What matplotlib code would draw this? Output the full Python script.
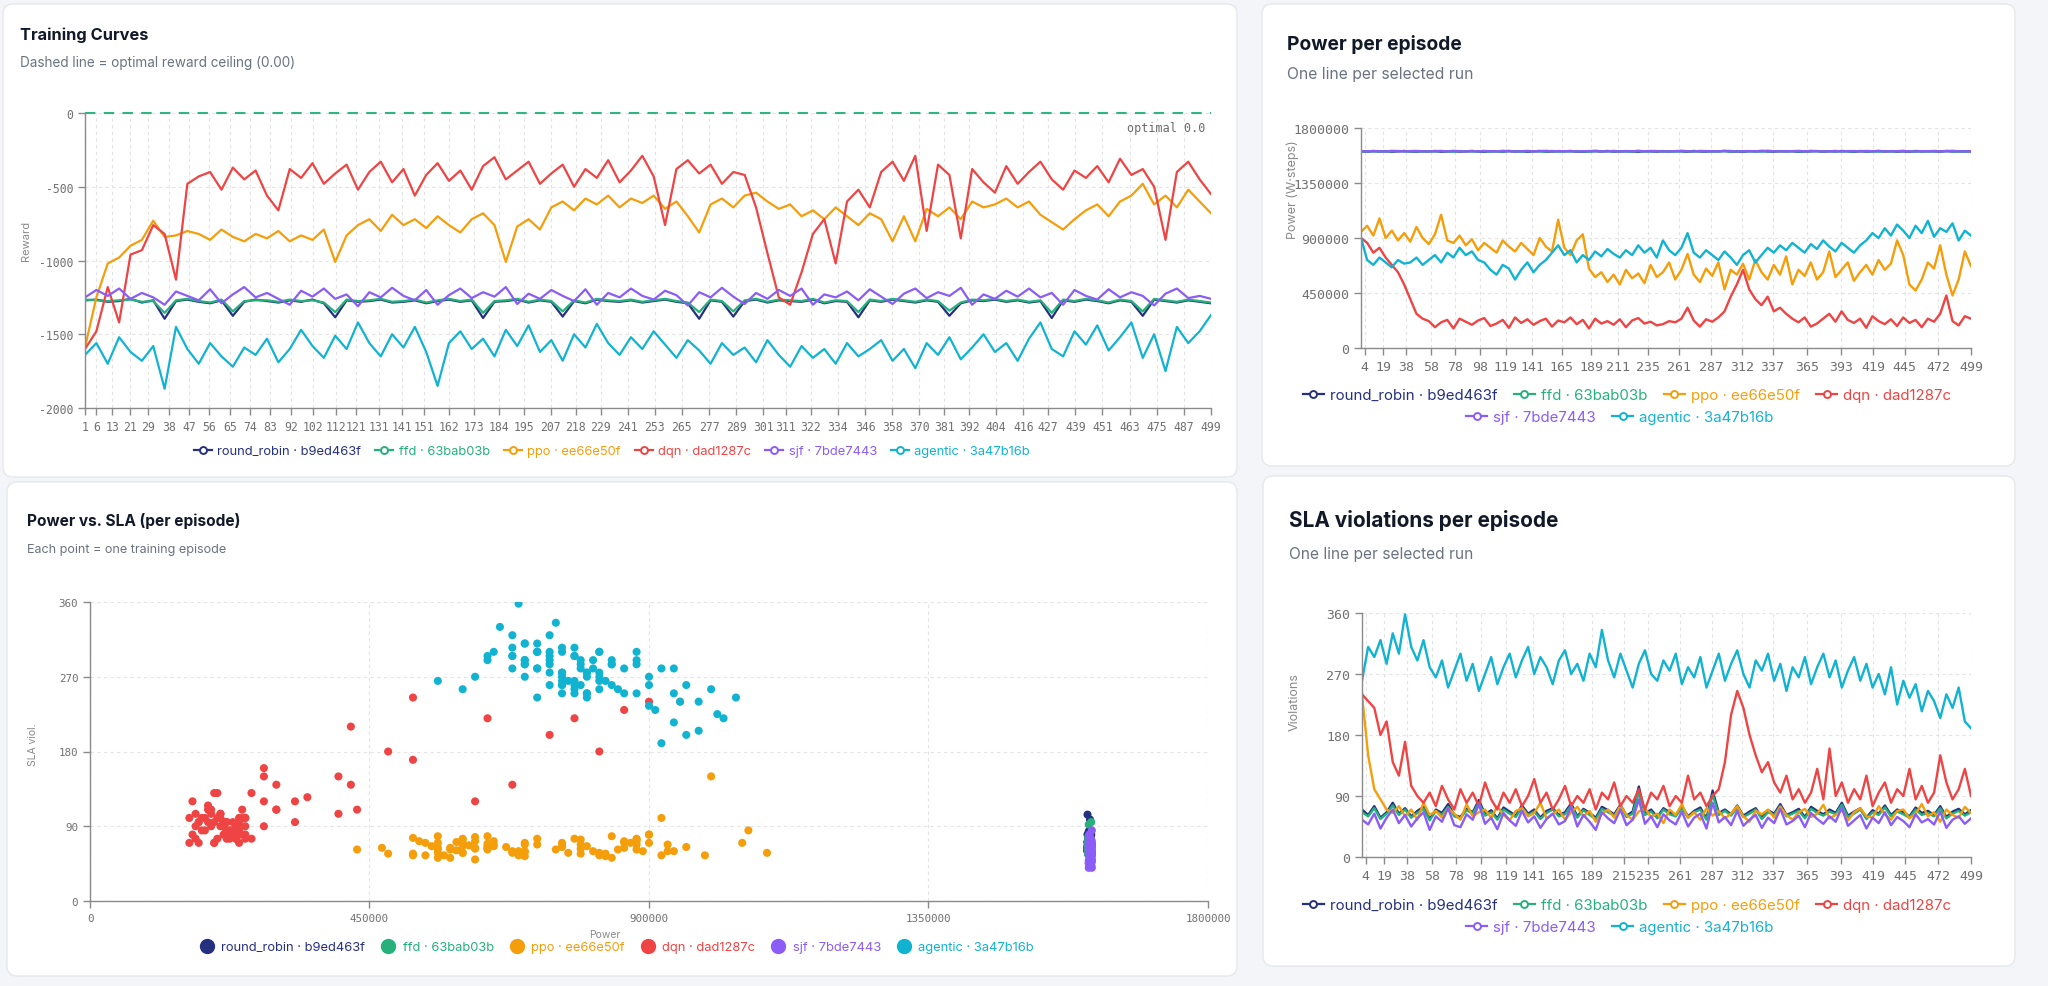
import numpy as np
import matplotlib
matplotlib.use("Agg")
import matplotlib.pyplot as plt
from matplotlib.patches import FancyBboxPatch
from matplotlib.lines import Line2D
from matplotlib.transforms import IdentityTransform

W, H = 2048, 987

runs = ["round_robin", "ffd", "ppo", "dqn", "sjf", "agentic"]
run_ids = ["b9ed463f", "63bab03b", "ee66e50f", "dad1287c", "7bde7443", "3a47b16b"]
colors = ["#25307f", "#25b07c", "#f59e0b", "#ef4444", "#8b5cf6", "#12b3d1"]

# episodes sampled (every ~5th episode of 1..499)
n_points = 100

# ---- reward per episode ----
reward_rr = [
    -1270, -1265, -1280, -1275, -1260, -1285, -1270, -1395, -1275, -1265,
    -1280, -1290, -1270, -1375, -1280, -1265, -1275, -1285, -1270, -1280,
    -1265, -1290, -1385, -1270, -1280, -1275, -1265, -1285, -1280, -1270,
    -1290, -1275, -1265, -1280, -1270, -1390, -1280, -1275, -1265, -1285,
    -1270, -1280, -1380, -1275, -1290, -1265, -1275, -1280, -1270, -1285,
    -1275, -1265, -1280, -1290, -1395, -1270, -1280, -1380, -1275, -1265,
    -1285, -1270, -1275, -1280, -1265, -1290, -1275, -1280, -1385, -1270,
    -1280, -1265, -1275, -1285, -1270, -1280, -1375, -1290, -1270, -1275,
    -1265, -1280, -1270, -1285, -1275, -1390, -1270, -1280, -1265, -1275,
    -1290, -1270, -1280, -1375, -1265, -1275, -1285, -1270, -1280, -1290]
reward_ffd = [
    -1265, -1270, -1275, -1270, -1265, -1280, -1275, -1355, -1270, -1260,
    -1275, -1285, -1265, -1345, -1275, -1270, -1270, -1280, -1265, -1275,
    -1270, -1285, -1350, -1265, -1275, -1270, -1260, -1280, -1275, -1265,
    -1285, -1270, -1260, -1275, -1265, -1355, -1275, -1270, -1260, -1280,
    -1265, -1275, -1345, -1270, -1285, -1260, -1270, -1275, -1265, -1280,
    -1270, -1260, -1275, -1285, -1350, -1265, -1275, -1345, -1270, -1260,
    -1280, -1265, -1270, -1275, -1260, -1285, -1270, -1275, -1350, -1265,
    -1275, -1260, -1270, -1280, -1265, -1275, -1340, -1285, -1265, -1270,
    -1260, -1275, -1265, -1280, -1270, -1355, -1265, -1275, -1260, -1270,
    -1285, -1265, -1275, -1345, -1260, -1270, -1280, -1265, -1275, -1285]
reward_ppo = [
    -1590, -1250, -1020, -980, -900, -860, -730, -840, -830, -800,
    -820, -860, -790, -840, -870, -820, -850, -800, -870, -830,
    -860, -790, -1010, -830, -760, -720, -800, -690, -760, -720,
    -780, -700, -760, -810, -720, -680, -760, -1010, -770, -720,
    -790, -640, -600, -660, -580, -620, -560, -640, -580, -610,
    -560, -650, -600, -700, -810, -620, -580, -640, -560, -540,
    -600, -650, -620, -700, -660, -720, -640, -700, -760, -680,
    -720, -870, -700, -870, -650, -700, -640, -720, -600, -640,
    -620, -580, -640, -600, -690, -740, -790, -720, -660, -620,
    -700, -600, -560, -480, -620, -560, -640, -520, -600, -680]
reward_dqn = [
    -1600, -1480, -1180, -1420, -960, -930, -760, -820, -1130, -480,
    -430, -400, -520, -370, -450, -390, -560, -660, -380, -440,
    -340, -480, -410, -350, -520, -400, -330, -470, -380, -560,
    -420, -340, -460, -390, -520, -360, -300, -450, -390, -330,
    -480, -410, -350, -500, -380, -440, -320, -470, -390, -290,
    -430, -760, -380, -320, -410, -350, -480, -400, -420, -640,
    -950, -1250, -1300, -1080, -820, -720, -1020, -600, -520, -640,
    -400, -330, -460, -290, -800, -350, -420, -850, -380, -470,
    -540, -360, -480, -400, -330, -450, -520, -390, -440, -360,
    -470, -310, -420, -380, -500, -860, -400, -330, -450, -550]
reward_sjf = [
    -1250, -1200, -1240, -1190, -1260, -1220, -1250, -1300, -1210, -1240,
    -1270, -1195, -1290, -1230, -1180, -1250, -1220, -1260, -1300, -1205,
    -1245, -1190, -1260, -1230, -1310, -1215, -1250, -1185, -1240, -1270,
    -1200, -1300, -1235, -1190, -1255, -1215, -1245, -1180, -1295, -1225,
    -1260, -1200, -1240, -1275, -1195, -1300, -1220, -1250, -1190, -1240,
    -1265, -1205, -1235, -1305, -1215, -1250, -1185, -1245, -1295, -1220,
    -1260, -1200, -1240, -1190, -1300, -1230, -1250, -1210, -1270, -1195,
    -1245, -1295, -1225, -1190, -1255, -1215, -1240, -1185, -1300, -1230,
    -1260, -1205, -1245, -1190, -1250, -1220, -1300, -1200, -1240, -1265,
    -1195, -1250, -1215, -1240, -1305, -1225, -1190, -1255, -1240, -1260]
reward_agentic = [
    -1640, -1560, -1700, -1520, -1620, -1680, -1580, -1870, -1450, -1600,
    -1700, -1560, -1650, -1720, -1590, -1640, -1530, -1690, -1600, -1470,
    -1580, -1660, -1510, -1600, -1420, -1560, -1650, -1500, -1590, -1450,
    -1620, -1850, -1560, -1480, -1600, -1530, -1650, -1470, -1580, -1440,
    -1620, -1540, -1680, -1500, -1590, -1430, -1560, -1640, -1520, -1600,
    -1480, -1570, -1660, -1540, -1610, -1700, -1560, -1640, -1590, -1690,
    -1540, -1640, -1720, -1580, -1660, -1600, -1700, -1560, -1650, -1600,
    -1540, -1680, -1600, -1730, -1560, -1640, -1520, -1670, -1590, -1500,
    -1620, -1560, -1680, -1530, -1420, -1600, -1650, -1480, -1570, -1440,
    -1610, -1520, -1420, -1660, -1500, -1750, -1450, -1560, -1480, -1370]

# ---- power per episode, in thousands of W-steps ----
power_rr_k = [
    1609, 1607, 1610, 1608, 1611, 1606, 1609, 1612, 1608, 1607,
    1610, 1609, 1611, 1606, 1608, 1610, 1607, 1609, 1612, 1608,
    1606, 1610, 1609, 1607, 1611, 1608, 1610, 1606, 1609, 1612,
    1607, 1608, 1610, 1609, 1611, 1607, 1606, 1609, 1610, 1608,
    1612, 1607, 1609, 1611, 1608, 1606, 1610, 1609, 1607, 1611,
    1608, 1610, 1609, 1606, 1612, 1608, 1607, 1610, 1609, 1611,
    1607, 1608, 1606, 1610, 1609, 1612, 1608, 1607, 1611, 1609,
    1610, 1606, 1608, 1609, 1611, 1607, 1610, 1608, 1612, 1609,
    1606, 1610, 1607, 1609, 1611, 1608, 1610, 1607, 1609, 1606,
    1612, 1608, 1610, 1609, 1607, 1611, 1608, 1610, 1609, 1608]
power_ffd_k = [
    1610, 1608, 1611, 1609, 1607, 1610, 1612, 1608, 1609, 1611,
    1607, 1610, 1608, 1612, 1609, 1607, 1611, 1610, 1608, 1609,
    1611, 1607, 1610, 1608, 1612, 1609, 1607, 1611, 1610, 1608,
    1609, 1612, 1607, 1610, 1608, 1611, 1609, 1607, 1612, 1610,
    1608, 1611, 1610, 1607, 1609, 1612, 1608, 1610, 1611, 1607,
    1610, 1608, 1612, 1609, 1607, 1611, 1610, 1608, 1609, 1612,
    1607, 1611, 1609, 1610, 1608, 1607, 1612, 1609, 1610, 1608,
    1611, 1609, 1607, 1612, 1610, 1608, 1609, 1611, 1607, 1610,
    1608, 1612, 1610, 1609, 1607, 1611, 1608, 1610, 1612, 1609,
    1607, 1610, 1608, 1611, 1609, 1612, 1610, 1607, 1609, 1610]
power_ppo_k = [
    950, 1000, 920, 1060, 900, 960, 880, 940, 870, 990,
    900, 850, 930, 1090, 880, 860, 920, 840, 890, 800,
    860, 820, 780, 880, 830, 790, 860, 810, 760, 900,
    830, 790, 1050, 820, 760, 880, 930, 650, 580, 620,
    540, 600, 520, 640, 570, 610, 530, 680, 580, 620,
    700, 560, 640, 770, 600, 540, 650, 590, 700, 480,
    640, 600, 690, 560, 720, 620, 560, 680, 600, 750,
    520, 640, 590, 700, 560, 620, 790, 580, 640, 700,
    550, 620, 680, 600, 720, 640, 690, 880, 760, 520,
    470, 560, 700, 650, 840, 600, 430, 560, 790, 670]
power_dqn_k = [
    900, 860, 780, 820, 740, 680, 620, 520, 400, 280,
    240, 220, 170, 210, 230, 160, 240, 215, 190, 225,
    245, 180, 200, 230, 165, 250, 205, 235, 190, 220,
    240, 175, 225, 210, 250, 195, 230, 160, 240, 200,
    220, 190, 235, 170, 225, 245, 200, 215, 185, 195,
    220, 210, 240, 330, 225, 175, 235, 215, 250, 300,
    420, 520, 640, 480, 400, 350, 420, 300, 330, 280,
    240, 210, 250, 175, 200, 240, 280, 215, 300, 230,
    205, 240, 165, 260, 220, 195, 235, 180, 250, 205,
    230, 170, 240, 215, 280, 430, 220, 185, 260, 240]
power_sjf_k = [
    1611, 1609, 1612, 1610, 1608, 1613, 1610, 1609, 1611, 1612,
    1610, 1608, 1612, 1611, 1609, 1613, 1610, 1608, 1611, 1609,
    1612, 1610, 1609, 1613, 1611, 1608, 1610, 1612, 1609, 1611,
    1613, 1609, 1611, 1610, 1612, 1608, 1610, 1611, 1613, 1609,
    1610, 1612, 1608, 1611, 1609, 1613, 1610, 1612, 1611, 1608,
    1609, 1611, 1613, 1610, 1608, 1612, 1611, 1609, 1610, 1613,
    1612, 1608, 1610, 1611, 1609, 1612, 1613, 1610, 1608, 1611,
    1610, 1613, 1609, 1612, 1611, 1608, 1610, 1612, 1609, 1611,
    1611, 1609, 1612, 1610, 1613, 1608, 1611, 1610, 1612, 1609,
    1608, 1611, 1610, 1612, 1609, 1611, 1613, 1610, 1609, 1611]
power_agentic_k = [
    900, 720, 680, 740, 700, 660, 720, 690, 700, 740,
    680, 720, 760, 700, 780, 740, 820, 760, 790, 720,
    700, 640, 600, 680, 650, 560, 640, 700, 620, 680,
    720, 780, 840, 760, 800, 700, 760, 720, 790, 750,
    810, 770, 740, 800, 760, 840, 780, 820, 740, 880,
    800, 760, 820, 940, 780, 740, 800, 760, 720, 790,
    740, 680, 760, 800, 700, 760, 820, 780, 840, 800,
    860, 820, 780, 850, 810, 880, 830, 790, 860, 820,
    780, 840, 880, 940, 900, 980, 920, 1010, 960, 900,
    1000, 940, 1040, 910, 980, 950, 1020, 880, 960, 920]

# ---- SLA violations per episode ----
sla_rr = [
    70, 62, 75, 58, 66, 80, 64, 72, 60, 68,
    74, 56, 70, 65, 78, 62, 59, 71, 66, 84,
    63, 69, 57, 73, 67, 61, 76, 64, 70, 58,
    68, 72, 62, 66, 79, 60, 71, 65, 58, 74,
    69, 63, 77, 61, 67, 104, 64, 70, 59, 72,
    66, 62, 75, 60, 68, 73, 57, 98, 65, 70,
    63, 76, 61, 67, 72, 58, 69, 64, 78, 62,
    66, 71, 59, 74, 68, 63, 70, 65, 80, 61,
    67, 72, 58, 69, 64, 76, 62, 70, 66, 60,
    73, 65, 68, 62, 75, 59, 67, 71, 63, 69]
sla_ffd = [
    66, 60, 72, 56, 64, 76, 62, 70, 58, 65,
    71, 54, 68, 62, 74, 60, 57, 69, 64, 80,
    61, 66, 55, 70, 64, 59, 73, 62, 67, 56,
    65, 70, 60, 63, 76, 58, 69, 62, 56, 71,
    66, 61, 74, 59, 64, 95, 62, 67, 57, 70,
    63, 60, 72, 58, 66, 70, 55, 92, 62, 68,
    61, 73, 59, 64, 70, 56, 66, 62, 75, 60,
    64, 68, 57, 71, 65, 61, 67, 63, 77, 59,
    64, 70, 56, 66, 62, 73, 60, 67, 63, 58,
    70, 62, 65, 60, 72, 57, 64, 68, 61, 66]
sla_ppo = [
    240, 150, 100, 85, 70, 65, 75, 60, 70, 55,
    80, 62, 68, 58, 72, 64, 55, 78, 60, 66,
    70, 58, 75, 62, 54, 68, 72, 60, 65, 80,
    57, 63, 70, 55, 66, 74, 60, 68, 52, 64,
    70, 58, 76, 62, 55, 67, 72, 59, 64, 50,
    70, 62, 78, 58, 66, 55, 72, 61, 68, 57,
    64, 75, 60, 52, 68, 63, 70, 58, 74, 62,
    55, 66, 71, 59, 64, 77, 57, 62, 69, 54,
    66, 72, 60, 58, 75, 63, 55, 68, 70, 57,
    64, 78, 60, 66, 52, 70, 62, 58, 74, 65]
sla_dqn = [
    240, 230, 220, 180, 200, 140, 120, 170, 105, 90,
    80, 95, 75, 105, 85, 70, 100, 80, 95, 75,
    110, 85, 70, 95, 80, 100, 75, 90, 115, 80,
    95, 70, 85, 105, 75, 90, 80, 100, 70, 95,
    85, 110, 75, 90, 80, 100, 70, 95, 85, 105,
    75, 90, 80, 120, 85, 95, 75, 90, 100, 140,
    210, 245, 220, 180, 150, 125, 140, 110, 95, 120,
    85, 100, 80, 95, 130, 85, 160, 90, 110, 80,
    100, 85, 120, 75, 95, 110, 80, 100, 90, 130,
    85, 105, 80, 95, 150, 110, 85, 100, 130, 90]
sla_sjf = [
    55, 48, 64, 42, 58, 70, 50, 62, 45, 57,
    66, 40, 60, 52, 72, 47, 44, 63, 55, 78,
    49, 58, 41, 65, 54, 46, 68, 51, 60, 43,
    56, 64, 48, 53, 74, 45, 62, 52, 40, 66,
    57, 50, 70, 47, 55, 85, 49, 60, 44, 63,
    54, 48, 67, 45, 58, 64, 42, 80, 51, 59,
    47, 68, 46, 55, 62, 43, 58, 50, 71, 48,
    53, 61, 44, 65, 56, 49, 60, 52, 73, 46,
    54, 62, 42, 58, 50, 66, 47, 59, 53, 44,
    63, 51, 56, 48, 67, 43, 55, 60, 49, 57]
sla_agentic = [
    260, 310, 295, 320, 285, 330, 300, 358, 310, 290,
    320, 280, 265, 290, 250, 275, 300, 260, 285, 245,
    270, 295, 255, 280, 300, 265, 290, 310, 270, 295,
    280, 255, 290, 305, 270, 285, 260, 300, 280, 335,
    290, 265, 300, 275, 250, 285, 305, 270, 260, 290,
    275, 300, 255, 280, 265, 295, 250, 275, 300, 260,
    285, 305, 270, 250, 290, 275, 300, 260, 285, 245,
    280, 265, 295, 255, 280, 300, 265, 290, 250, 275,
    295, 260, 285, 250, 270, 240, 280, 225, 260, 235,
    255, 215, 245, 230, 205, 240, 220, 250, 200, 190]

train_ticks = [1, 6, 13, 21, 29, 38, 47, 56, 65, 74, 83, 92, 102, 112, 121, 131,
               141, 151, 162, 173, 184, 195, 207, 218, 229, 241, 253, 265, 277,
               289, 301, 311, 322, 334, 346, 358, 370, 381, 392, 404, 416, 427,
               439, 451, 463, 475, 487, 499]
power_ticks = [4, 19, 38, 58, 78, 98, 119, 141, 165, 189, 211, 235, 261, 287,
               312, 337, 365, 393, 419, 445, 472, 499]
sla_ticks = [4, 19, 38, 58, 78, 98, 119, 141, 165, 189, 215, 235, 261, 287,
             312, 337, 365, 393, 419, 445, 472, 499]

rewards = [reward_rr, reward_ffd, reward_ppo, reward_dqn, reward_sjf, reward_agentic]
powers = [power_rr_k, power_ffd_k, power_ppo_k, power_dqn_k, power_sjf_k, power_agentic_k]
slas = [sla_rr, sla_ffd, sla_ppo, sla_dqn, sla_sjf, sla_agentic]
labels = [f"{r} · {i}" for r, i in zip(runs, run_ids)]
episodes = np.linspace(1, 499, n_points)

SANS = "Inter"
MONO = "DejaVu Sans Mono"
TICK_C = "#707070"
SPINE_C = "#8a8a8a"
GRID_C = "#e3e3e3"

fig = plt.figure(figsize=(W / 100, H / 100), dpi=100)
fig.patch.set_facecolor("#f3f5f8")


def card(x0, y0, x1, y1):
    # rounded white card, pixel coords from top-left
    p = FancyBboxPatch((x0, H - y1), x1 - x0, y1 - y0,
                       boxstyle="round,pad=0,rounding_size=10",
                       transform=IdentityTransform(), facecolor="white",
                       edgecolor="#e6e8ec", linewidth=1.0, zorder=-10)
    fig.add_artist(p)


def make_ax(l, t, r, b):
    ax = fig.add_axes([l / W, 1 - b / H, (r - l) / W, (b - t) / H])
    ax.patch.set_alpha(0)
    for s in ["top", "right"]:
        ax.spines[s].set_visible(False)
    for s in ["left", "bottom"]:
        ax.spines[s].set_color(SPINE_C)
        ax.spines[s].set_linewidth(1.0)
    ax.tick_params(length=5, color=SPINE_C, width=1)
    ax.set_axisbelow(True)
    ax.grid(True, color=GRID_C, ls=(0, (3, 3)), lw=0.8)
    return ax


renderer = fig.canvas.get_renderer()


def ftext(x, y, s, width=None, ha="left", **kw):
    t = fig.text(x / W, 1 - y / H, s, va="center", ha=ha, **kw)
    if width:
        w = t.get_window_extent(renderer).width
        t.set_fontsize(t.get_fontsize() * width / w)
    return t


def line_handles():
    return [Line2D([0], [0], color=c, lw=1.6, marker="o", markersize=5,
                   markerfacecolor="white", markeredgewidth=1.4) for c in colors]


def add_legend(handles, labs, cols, cx, cy, size):
    leg = fig.legend(handles, labs, loc="center", bbox_to_anchor=(cx / W, 1 - cy / H),
                     ncol=len(handles), frameon=False, handlelength=1.4,
                     handletextpad=0.4, columnspacing=1.1,
                     prop={"family": SANS, "size": size})
    for txt, c in zip(leg.get_texts(), cols):
        txt.set_color(c)
    return leg


# cards
card(3, 5, 1237, 478)
card(7, 483, 1237, 977)
card(1262, 5, 2015, 467)
card(1263, 477, 2015, 967)

# ---------------- Training curves ----------------
ax = make_ax(85, 114, 1211, 409)
for vals, c in zip(rewards, colors):
    ax.plot(episodes, vals, color=c, lw=1.6)
ax.axhline(0, color="#2fb582", ls=(0, (5, 4)), lw=1.5, clip_on=False)
ax.set_xlim(1, 499)
ax.set_ylim(-2000, 0)
ax.set_xticks(train_ticks, labels=[str(t) for t in train_ticks],
              fontfamily=MONO, fontsize=8.3, color=TICK_C)
yt = [-2000, -1500, -1000, -500, 0]
ax.set_yticks(yt, labels=[str(v) for v in yt], fontfamily=MONO, fontsize=8.3, color=TICK_C)
ax.text(0.995, -95, "optimal 0.0", transform=ax.get_yaxis_transform(), ha="right",
        va="center", fontfamily=MONO, fontsize=8.5, color="#6b6b6b")

ftext(20, 35, "Training Curves", width=128, family=SANS, fontweight="bold", fontsize=12,
      color="#111827")
ftext(20, 63, "Dashed line = optimal reward ceiling (0.00)", width=278, family=SANS,
      fontsize=10, color="#6b7280")
ftext(26, 241, "Reward", ha="center", family=SANS, fontsize=8, color="#8a8a8a", rotation=90)
add_legend(line_handles(), labels, colors, 612, 452, 9.3)

# ---------------- Power vs SLA scatter ----------------
ax = make_ax(90, 603, 1208, 902)
for pw, sl, c in zip(powers, slas, colors):
    ax.scatter(np.array(pw) * 1000, sl, s=34, color=c, edgecolors="none", zorder=3)
ax.set_xlim(0, 1800000)
ax.set_ylim(0, 360)
xt = [0, 450000, 900000, 1350000, 1800000]
ax.set_xticks(xt, labels=[str(v) for v in xt], fontfamily=MONO, fontsize=7.8, color=TICK_C)
yt = [0, 90, 180, 270, 360]
ax.set_yticks(yt, labels=[str(v) for v in yt], fontfamily=MONO, fontsize=7.8, color=TICK_C)

ftext(27, 521, "Power vs. SLA (per episode)", width=213, family=SANS, fontweight="bold",
      fontsize=12, color="#111827")
ftext(27, 550, "Each point = one training episode", width=201, family=SANS, fontsize=10,
      color="#6b7280")
ftext(33, 745, "SLA viol.", ha="center", family=SANS, fontsize=7.5, color="#8a8a8a", rotation=90)
ftext(605, 935, "Power", ha="center", family=SANS, fontsize=7.5, color="#8a8a8a")
dots = [Line2D([0], [0], ls="none", marker="o", markersize=10, color=c) for c in colors]
add_legend(dots, labels, colors, 616, 948, 9.3)

# ---------------- Power per episode ----------------
ax = make_ax(1361, 129, 1971, 349)
for vals, c in zip(powers, colors):
    ax.plot(episodes, np.array(vals) * 1000, color=c, lw=1.7)
ax.set_xlim(1, 499)
ax.set_ylim(0, 1800000)
ax.set_xticks(power_ticks, labels=[str(t) for t in power_ticks],
              fontfamily=MONO, fontsize=9.5, color=TICK_C)
yt = [0, 450000, 900000, 1350000, 1800000]
ax.set_yticks(yt, labels=[str(v) for v in yt], fontfamily=MONO, fontsize=9.5, color=TICK_C)

ftext(1287, 45, "Power per episode", width=175, family=SANS, fontweight="bold", fontsize=13,
      color="#111827")
ftext(1287, 74, "One line per selected run", width=186, family=SANS, fontsize=10.5,
      color="#6b7280")
ftext(1293, 190, "Power (W·steps)", ha="center", family=SANS, fontsize=9, color="#8a8a8a",
      rotation=90)
h = line_handles()
add_legend(h[:4], labels[:4], colors[:4], 1627, 396, 10.8)
add_legend(h[4:], labels[4:], colors[4:], 1620, 418, 10.8)

# ---------------- SLA violations per episode ----------------
ax = make_ax(1362, 614, 1971, 858)
for vals, c in zip(slas, colors):
    ax.plot(episodes, vals, color=c, lw=1.7)
ax.set_xlim(1, 499)
ax.set_ylim(0, 360)
ax.set_xticks(sla_ticks, labels=[str(t) for t in sla_ticks],
              fontfamily=MONO, fontsize=9.5, color=TICK_C)
yt = [0, 90, 180, 270, 360]
ax.set_yticks(yt, labels=[str(v) for v in yt], fontfamily=MONO, fontsize=9.5, color=TICK_C)

ftext(1289, 521, "SLA violations per episode", width=270, family=SANS, fontweight="bold",
      fontsize=13, color="#111827")
ftext(1289, 554, "One line per selected run", width=184, family=SANS, fontsize=10.5,
      color="#6b7280")
ftext(1295, 702, "Violations", ha="center", family=SANS, fontsize=9, color="#8a8a8a",
      rotation=90)
h = line_handles()
add_legend(h[:4], labels[:4], colors[:4], 1627, 906, 10.8)
add_legend(h[4:], labels[4:], colors[4:], 1620, 928, 10.8)

fig.savefig("out.png", dpi=100, facecolor=fig.get_facecolor())
